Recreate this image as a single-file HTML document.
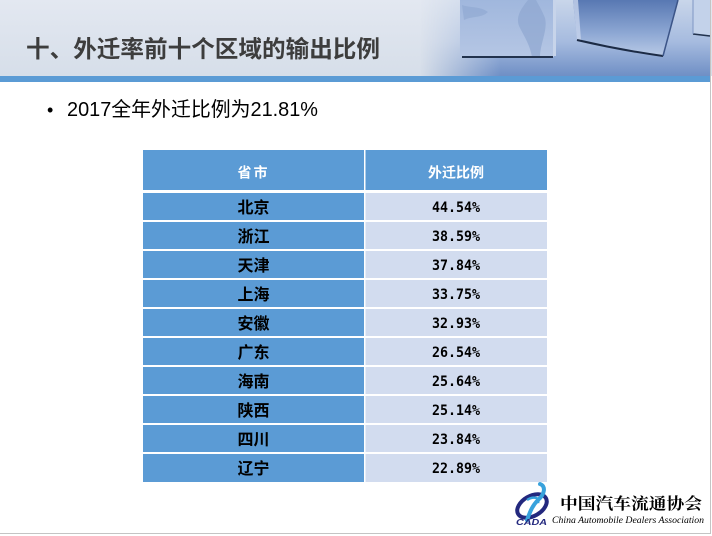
<!DOCTYPE html>
<html><head><meta charset="utf-8">
<style>
html,body{margin:0;padding:0;background:#fff;}
body{width:712px;height:536px;overflow:hidden;}
svg{display:block;}
</style></head>
<body>
<svg width="712" height="536" viewBox="0 0 712 536" xmlns="http://www.w3.org/2000/svg">
<defs>
<linearGradient id="hdr" x1="0" y1="0" x2="0" y2="1">
<stop offset="0" stop-color="#e3e8f1"/><stop offset="1" stop-color="#d6dee9"/>
</linearGradient>
<linearGradient id="maskG" x1="420" y1="0" x2="500" y2="0" gradientUnits="userSpaceOnUse">
<stop offset="0" stop-color="#fff" stop-opacity="0"/>
<stop offset="1" stop-color="#fff" stop-opacity="1"/>
</linearGradient>
<mask id="fadeMask" maskUnits="userSpaceOnUse" x="0" y="0" width="712" height="76">
<rect x="0" y="0" width="712" height="76" fill="url(#maskG)"/>
</mask>
<linearGradient id="tint" x1="0" y1="0" x2="0" y2="1">
<stop offset="0" stop-color="#c9d6ea"/>
<stop offset="0.55" stop-color="#a6bbdf"/>
<stop offset="1" stop-color="#6f8fc5"/>
</linearGradient>
<linearGradient id="c2" x1="0" y1="0" x2="0" y2="1">
<stop offset="0" stop-color="#5878b2"/><stop offset="0.6" stop-color="#8ea8d4"/><stop offset="1" stop-color="#b9cae6"/>
</linearGradient>
<linearGradient id="c1" x1="0" y1="0" x2="0" y2="1">
<stop offset="0" stop-color="#a0b7dd"/><stop offset="1" stop-color="#b5c6e4"/>
</linearGradient>
</defs>

<!-- header -->
<rect x="0" y="0" width="712" height="76" fill="url(#hdr)"/>
<g mask="url(#fadeMask)">
<rect x="400" y="0" width="310" height="76" fill="url(#tint)"/>
</g>
<!-- cube 1 -->
<rect x="460" y="0" width="94" height="57" fill="url(#c1)"/>
<path d="M528 0 C520 10 515 18 520 28 C524 36 530 45 532 57 L540 57 C540 44 548 30 545 18 C542 10 538 4 536 0 Z" fill="#8ea7d0" opacity="0.7"/>
<path d="M462 5 C470 8 480 6 488 12 C482 18 472 16 464 20 Z" fill="#8ea7d0" opacity="0.6"/>
<rect x="553" y="0" width="3" height="56" fill="#c7d4ea"/>
<line x1="462" y1="57" x2="553" y2="57" stroke="#22324d" stroke-width="2"/>
<!-- cube 2 -->
<polygon points="573,0 577,40 663,56 678,0" fill="url(#c2)"/>
<polygon points="573,0 577,40 581,40 578,0" fill="#c8d5ec" opacity="0.8"/>
<path d="M577 40 Q620 50 663 56" stroke="#1c2b45" stroke-width="2" fill="none"/>
<line x1="663" y1="56" x2="678" y2="0" stroke="#3c5588" stroke-width="1.5"/>
<!-- cube 3 -->
<polygon points="693,0 693,33 710,35 710,0" fill="#c3d2ea"/>
<line x1="693" y1="34" x2="710" y2="36" stroke="#22324d" stroke-width="1.5"/>
<line x1="693" y1="0" x2="693" y2="34" stroke="#7f97c4" stroke-width="1"/>

<!-- blue band -->
<rect x="0" y="76" width="710" height="6" fill="#5b9bd5"/>

<!-- title -->
<text x="26" y="57" font-family="'Liberation Sans','Noto Sans CJK SC',sans-serif" font-size="23.5" font-weight="bold" fill="#3d3d3d" textLength="354" lengthAdjust="spacingAndGlyphs">十、外迁率前十个区域的输出比例</text>

<!-- subtitle -->
<text x="47" y="116" font-family="'Liberation Sans',sans-serif" font-size="18" fill="#000">•</text>
<text x="67" y="116" font-family="'Liberation Sans','Noto Sans CJK SC',sans-serif" font-size="20" fill="#000" textLength="251" lengthAdjust="spacingAndGlyphs">2017全年外迁比例为21.81%</text>

<!-- table header -->
<rect x="143" y="150" width="221" height="40" fill="#5b9bd5"/>
<rect x="365.5" y="150" width="181.5" height="40" fill="#5b9bd5"/>
<text x="253.5" y="177.5" text-anchor="middle" font-family="'Liberation Sans','Noto Sans CJK SC',sans-serif" font-size="14" font-weight="bold" fill="#fff" letter-spacing="2">省市</text>
<text x="456" y="177.5" text-anchor="middle" font-family="'Liberation Sans','Noto Sans CJK SC',sans-serif" font-size="14" font-weight="bold" fill="#fff">外迁比例</text>

<!-- rows -->
<g font-family="'Liberation Sans','Noto Sans CJK SC',sans-serif" font-weight="bold" fill="#000">
<g>
<rect x="143" y="193" width="221" height="27" fill="#5b9bd5"/><rect x="365.5" y="193" width="181.5" height="27" fill="#d2dcef"/>
<rect x="143" y="222" width="221" height="27" fill="#5b9bd5"/><rect x="365.5" y="222" width="181.5" height="27" fill="#d2dcef"/>
<rect x="143" y="251" width="221" height="27" fill="#5b9bd5"/><rect x="365.5" y="251" width="181.5" height="27" fill="#d2dcef"/>
<rect x="143" y="280" width="221" height="27" fill="#5b9bd5"/><rect x="365.5" y="280" width="181.5" height="27" fill="#d2dcef"/>
<rect x="143" y="309" width="221" height="27" fill="#5b9bd5"/><rect x="365.5" y="309" width="181.5" height="27" fill="#d2dcef"/>
<rect x="143" y="338" width="221" height="27" fill="#5b9bd5"/><rect x="365.5" y="338" width="181.5" height="27" fill="#d2dcef"/>
<rect x="143" y="367" width="221" height="27" fill="#5b9bd5"/><rect x="365.5" y="367" width="181.5" height="27" fill="#d2dcef"/>
<rect x="143" y="396" width="221" height="27" fill="#5b9bd5"/><rect x="365.5" y="396" width="181.5" height="27" fill="#d2dcef"/>
<rect x="143" y="425" width="221" height="27" fill="#5b9bd5"/><rect x="365.5" y="425" width="181.5" height="27" fill="#d2dcef"/>
<rect x="143" y="454" width="221" height="28" fill="#5b9bd5"/><rect x="365.5" y="454" width="181.5" height="28" fill="#d2dcef"/>
</g>
<g font-size="16" text-anchor="middle">
<text x="253.5" y="213">北京</text>
<text x="253.5" y="242">浙江</text>
<text x="253.5" y="271">天津</text>
<text x="253.5" y="300">上海</text>
<text x="253.5" y="329">安徽</text>
<text x="253.5" y="358">广东</text>
<text x="253.5" y="387">海南</text>
<text x="253.5" y="416">陕西</text>
<text x="253.5" y="445">四川</text>
<text x="253.5" y="474">辽宁</text>
</g>
<g font-family="'DejaVu Sans Mono','Liberation Mono',monospace" font-size="14" font-weight="bold">
<text x="432" y="212" textLength="48" lengthAdjust="spacingAndGlyphs">44.54%</text>
<text x="432" y="241" textLength="48" lengthAdjust="spacingAndGlyphs">38.59%</text>
<text x="432" y="270" textLength="48" lengthAdjust="spacingAndGlyphs">37.84%</text>
<text x="432" y="299" textLength="48" lengthAdjust="spacingAndGlyphs">33.75%</text>
<text x="432" y="328" textLength="48" lengthAdjust="spacingAndGlyphs">32.93%</text>
<text x="432" y="357" textLength="48" lengthAdjust="spacingAndGlyphs">26.54%</text>
<text x="432" y="386" textLength="48" lengthAdjust="spacingAndGlyphs">25.64%</text>
<text x="432" y="415" textLength="48" lengthAdjust="spacingAndGlyphs">25.14%</text>
<text x="432" y="444" textLength="48" lengthAdjust="spacingAndGlyphs">23.84%</text>
<text x="432" y="473" textLength="48" lengthAdjust="spacingAndGlyphs">22.89%</text>
</g>
</g>

<!-- logo -->
<ellipse cx="532" cy="506" rx="16" ry="10" transform="rotate(-30 532 506)" fill="none" stroke="#23287e" stroke-width="4"/>
<path d="M540 484 C546 486 545 494 538 500 C532 506 530 512 527 520" stroke="#38a2dc" stroke-width="4" fill="none" stroke-linecap="round"/>
<path d="M527 500 C533 496 540 497 538 503" stroke="#38a2dc" stroke-width="2.5" fill="none"/>
<text x="516" y="525" font-family="'Liberation Sans',sans-serif" font-size="8" font-weight="bold" font-style="italic" fill="#23287e" textLength="31" lengthAdjust="spacingAndGlyphs">CADA</text>
<text x="560" y="509" font-family="'Liberation Serif','Noto Serif CJK SC',serif" font-size="16" font-weight="bold" fill="#000" textLength="142" lengthAdjust="spacingAndGlyphs">中国汽车流通协会</text>
<text x="552" y="523" font-family="'Liberation Serif',serif" font-size="9.5" font-style="italic" fill="#000" textLength="152" lengthAdjust="spacingAndGlyphs">China Automobile Dealers Association</text>

<!-- slide border -->
<rect x="710" y="0" width="1" height="534" fill="#c4c4c4"/>
<rect x="0" y="533" width="711" height="1" fill="#c4c4c4"/>
</svg>
</body></html>
